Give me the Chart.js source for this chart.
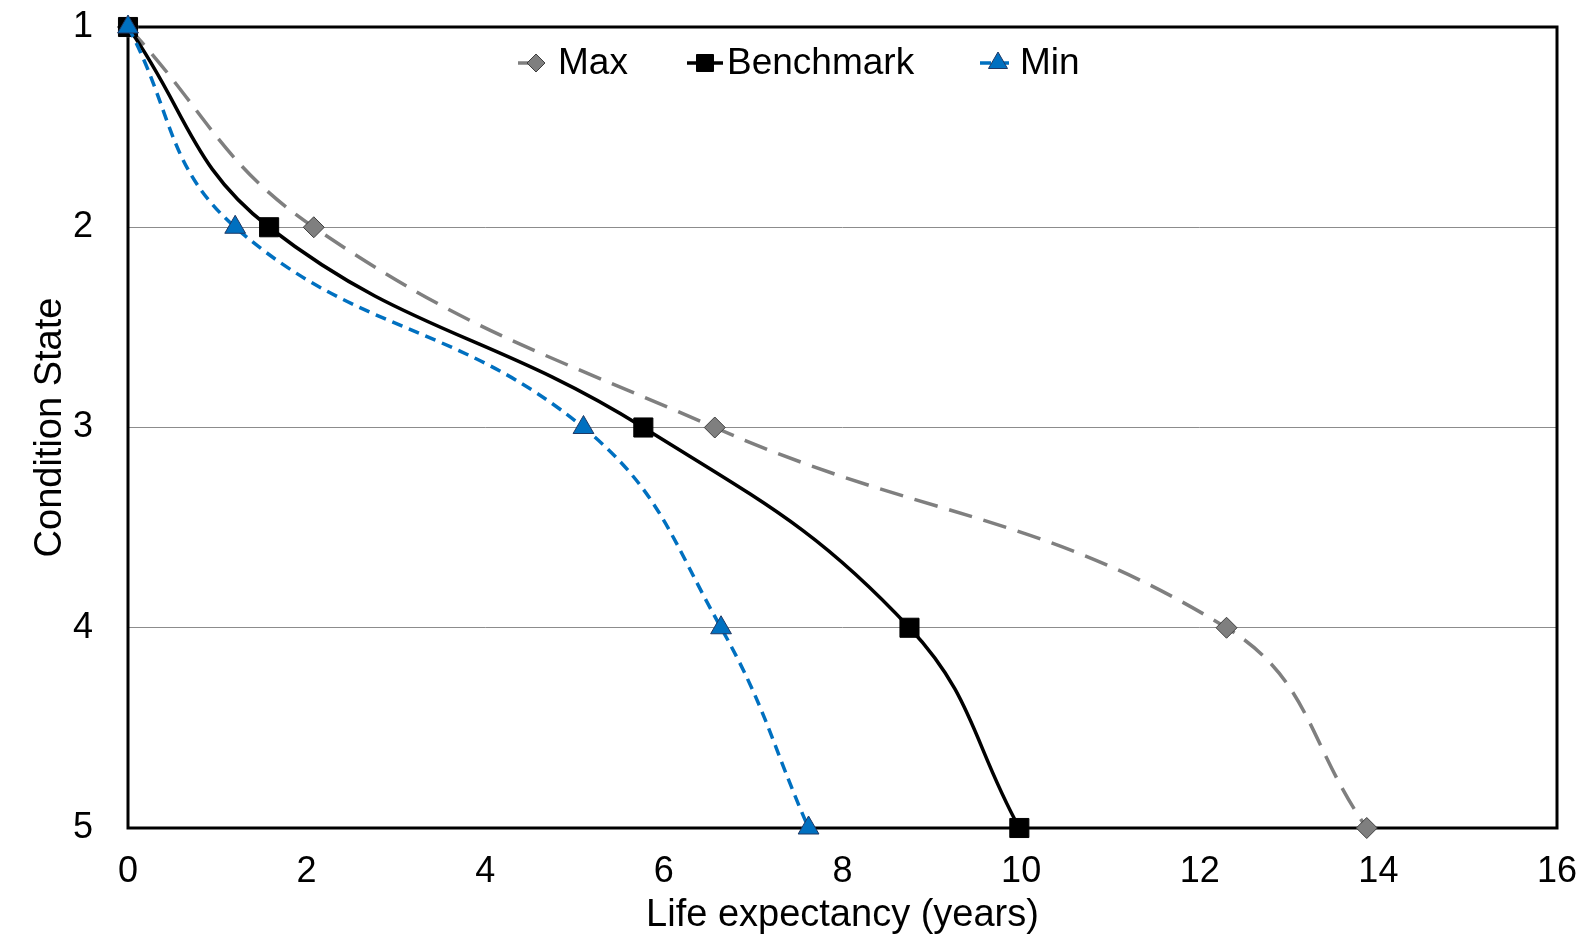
<!DOCTYPE html>
<html>
<head>
<meta charset="utf-8">
<script src="https://cdn.jsdelivr.net/npm/chart.js@4/dist/chart.umd.min.js"></script>
<style>
  html, body { margin: 0; padding: 0; background: #fff; }
  #chart { display: block; }
</style>
</head>
<body>
<canvas id="chart" width="1594" height="946"></canvas>
<script>
// condition states (y) and years to reach them (x)
const states = [1, 2, 3, 4, 5]
const maxYears = [0, 2.08, 6.57, 12.3, 13.87]
const benchYears = [0, 1.58, 5.77, 8.75, 9.98]
const minYears = [0, 1.2, 5.1, 6.64, 7.62]
const xTicks = [0, 2, 4, 6, 8, 10, 12, 14, 16]

const FONT = "'Liberation Sans', Arial, Helvetica, sans-serif"

const toPoints = xs => xs.map((x, i) => ({ x: x, y: states[i] }))

// plot frame, drawn under the series so the markers sit on top
const frame = {
    id: 'frame',
    beforeDatasetsDraw(chart) {
        const { ctx, chartArea: a } = chart
        ctx.save()
        ctx.strokeStyle = '#000'
        ctx.lineWidth = 3
        ctx.strokeRect(a.left, a.top, a.right - a.left, a.bottom - a.top)
        ctx.restore()
    }
}

// excel style legend inside the plot: line + marker + text
const insideLegend = {
    id: 'insideLegend',
    afterDatasetsDraw(chart) {
        const ctx = chart.ctx
        const y = 63
        const starts = [518, 687, 980]
        ctx.save()
        ctx.font = '37px ' + FONT
        ctx.textBaseline = 'middle'
        starts.forEach((x, i) => {
            const ds = chart.data.datasets[i]
            ctx.save()
            ctx.strokeStyle = ds.borderColor
            ctx.lineWidth = 3.5
            ctx.setLineDash(ds.borderDash || [])
            ctx.beginPath()
            ctx.moveTo(x, y)
            ctx.lineTo(x + 36, y)
            ctx.stroke()
            ctx.restore()
            ctx.save()
            ctx.fillStyle = ds.pointBackgroundColor
            ctx.strokeStyle = ds.pointBorderColor
            ctx.lineWidth = 1
            Chart.helpers.drawPoint(ctx, {
                pointStyle: ds.pointStyle,
                radius: ds.legendRadius,
                rotation: 0,
                borderWidth: 1
            }, x + 18, y)
            ctx.restore()
            ctx.fillStyle = '#000'
            ctx.fillText(ds.label, x + 40, y + 1)
        })
        ctx.restore()
    }
}

new Chart(document.querySelector('#chart').getContext('2d'), {
    type: 'scatter',
    data: {
        datasets: [
            {
                label: 'Max',
                data: toPoints(maxYears),
                showLine: true,
                borderColor: '#7f7f7f',
                borderWidth: 3.5,
                borderDash: [24, 12],
                pointStyle: 'rectRot',
                pointRadius: 10.5,
                legendRadius: 9,
                pointBackgroundColor: '#7f7f7f',
                pointBorderColor: '#3f3f3f',
                pointBorderWidth: 1,
                order: 2,
                clip: false
            },
            {
                label: 'Benchmark',
                data: toPoints(benchYears),
                showLine: true,
                borderColor: '#000000',
                borderWidth: 3.5,
                pointStyle: 'rect',
                pointRadius: 13.5,
                legendRadius: 12,
                pointBackgroundColor: '#000000',
                pointBorderColor: '#000000',
                pointBorderWidth: 1,
                order: 1,
                clip: false
            },
            {
                label: 'Min',
                data: toPoints(minYears),
                showLine: true,
                borderColor: '#0070c0',
                borderWidth: 3.5,
                borderDash: [11, 7],
                pointStyle: 'triangle',
                pointRadius: 12,
                legendRadius: 11,
                pointBackgroundColor: '#0070c0',
                pointBorderColor: '#1f3864',
                pointBorderWidth: 1,
                order: 0,
                clip: false
            }
        ]
    },
    options: {
        responsive: false,
        animation: false,
        events: [],
        datasets: {
            scatter: { tension: 0.42 }
        },
        layout: {
            padding: { top: 27, right: 37, left: 10, bottom: 0 }
        },
        plugins: {
            legend: { display: false },
            tooltip: { enabled: false }
        },
        scales: {
            x: {
                type: 'linear',
                min: 0,
                max: 16,
                afterBuildTicks: axis => { axis.ticks = xTicks.map(v => ({ value: v })) },
                afterFit: axis => {
                    axis.height = 118
                    axis.paddingLeft = 0
                    axis.paddingRight = 0
                },
                grid: { display: false, drawTicks: false },
                border: { display: false },
                ticks: {
                    color: '#000',
                    padding: 22,
                    font: { family: FONT, size: 36 }
                },
                title: {
                    display: true,
                    text: 'Life expectancy (years)',
                    color: '#000',
                    font: { family: FONT, size: 38 },
                    padding: { top: 0, bottom: 8 }
                }
            },
            y: {
                type: 'linear',
                reverse: true,
                min: 1,
                max: 5,
                afterBuildTicks: axis => { axis.ticks = states.map(v => ({ value: v })) },
                afterFit: axis => {
                    axis.width = 118
                    axis.paddingTop = 0
                    axis.paddingBottom = 0
                },
                grid: {
                    color: ctx => (ctx.tick && (ctx.tick.value === 1 || ctx.tick.value === 5)) ? 'rgba(0,0,0,0)' : '#8c8c8c',
                    lineWidth: 1,
                    drawTicks: false
                },
                border: { display: false },
                ticks: {
                    color: '#000',
                    padding: 35,
                    font: { family: FONT, size: 36 }
                },
                title: {
                    display: true,
                    text: 'Condition State',
                    color: '#000',
                    font: { family: FONT, size: 38 },
                    padding: { top: 18, bottom: 3 }
                }
            }
        }
    },
    plugins: [frame, insideLegend]
})
</script>
</body>
</html>
